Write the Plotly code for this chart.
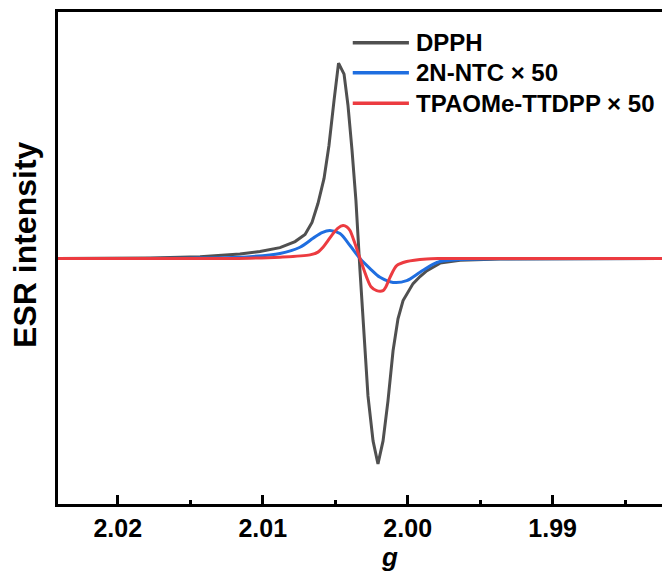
import plotly.graph_objects as go

# ---------------- data ----------------
series_names = ["DPPH", "2N-NTC × 50", "TPAOMe-TTDPP × 50"]
series_colors = ["#505050", "#1f6ee0", "#ec3b40"]

dpph_g = [2.02412, 2.01777, 2.01432, 2.01157, 2.01019, 2.00881, 2.00777, 2.00708,
          2.00660, 2.00619, 2.00577, 2.00543, 2.00508, 2.00477, 2.00439, 2.00412,
          2.00384, 2.00357, 2.00329, 2.00301, 2.00274, 2.00239, 2.00205, 2.00170,
          2.00136, 2.00101, 2.00067, 2.00032, 1.99998, 1.99963, 1.99915, 1.99867,
          1.99777, 1.99639, 1.99363, 1.98950, 1.98246]
dpph_i = [0.0, 0.003, 0.010, 0.023, 0.036, 0.056, 0.087, 0.123,
          0.185, 0.282, 0.410, 0.579, 0.810, 1.0, 0.944, 0.785,
          0.554, 0.297, -0.062, -0.369, -0.703, -0.933, -1.051, -0.933,
          -0.728, -0.472, -0.308, -0.215, -0.169, -0.128, -0.092, -0.062,
          -0.023, -0.008, -0.002, 0.0, 0.0]

ntc_g = [2.02412, 2.01433, 2.01088, 2.00881, 2.00743, 2.00653, 2.00591, 2.00536,
         2.00467, 2.00398, 2.00329, 2.00260, 2.00191, 2.00101, 2.00007, 1.99915,
         1.99823, 1.99777, 1.99639, 1.99363, 1.98246]
ntc_i = [0.0, 0.003, 0.010, 0.026, 0.058, 0.104, 0.133, 0.144,
         0.128, 0.067, 0.0, -0.051, -0.096, -0.122, -0.113, -0.070,
         -0.028, -0.015, -0.005, -0.001, 0.0]

tpa_g = [2.02412, 2.01088, 2.00881, 2.00674, 2.00619, 2.00584, 2.00550, 2.00515,
         2.00481, 2.00446, 2.00419, 2.00398, 2.00364, 2.00329, 2.00283, 2.00253,
         2.00214, 2.00170, 2.00150, 2.00122, 2.00076, 2.00007, 1.99869, 1.99777,
         1.98246]
tpa_i = [0.0, 0.002, 0.007, 0.019, 0.033, 0.058, 0.092, 0.128,
         0.156, 0.169, 0.162, 0.144, 0.077, 0.0, -0.096, -0.144,
         -0.164, -0.164, -0.144, -0.096, -0.036, -0.015, -0.002, 0.0,
         0.0]

x_range = [2.02412, 1.98246]
y_range = [-1.256, 1.262]
major_ticks = [2.02, 2.01, 2.00, 1.99]
major_labels = ["2.02", "2.01", "2.00", "1.99"]

FONT = "Arial, Liberation Sans, sans-serif"

fig = go.Figure()
fig.add_trace(go.Scatter(x=dpph_g, y=dpph_i, mode="lines", name=series_names[0],
                         line=dict(color=series_colors[0], width=3)))
fig.add_trace(go.Scatter(x=ntc_g, y=ntc_i, mode="lines", name=series_names[1],
                         line=dict(color=series_colors[1], width=3, shape="spline", smoothing=0.8)))
fig.add_trace(go.Scatter(x=tpa_g, y=tpa_i, mode="lines", name=series_names[2],
                         line=dict(color=series_colors[2], width=3, shape="spline", smoothing=0.8)))

# manual legend (decoration)
leg_rows = [0.9376, 0.8766, 0.8143]
for name, color, yy in zip(series_names, series_colors, leg_rows):
    fig.add_shape(type="line", xref="paper", yref="paper", x0=0.488, x1=0.581, y0=yy, y1=yy,
                  line=dict(color=color, width=3.5))
    fig.add_annotation(xref="paper", yref="paper", x=0.589, y=yy, text=name, showarrow=False,
                       xanchor="left", yanchor="middle",
                       font=dict(family=FONT, size=24, color="black", weight="bold"))

# axis titles
fig.add_annotation(xref="paper", yref="paper", x=0.549, y=-0.108, text="<i>g</i>",
                   showarrow=False, xanchor="center", yanchor="middle",
                   font=dict(family=FONT, size=26, color="black", weight="bold"))
fig.add_annotation(xref="paper", yref="paper", x=-0.022, y=0.526, text="ESR intensity",
                   showarrow=False, textangle=-90, xanchor="right", yanchor="middle",
                   font=dict(family=FONT, size=32, color="black", weight="bold"))

fig.update_layout(
    width=662, height=575,
    margin=dict(l=58, r=0, t=12, b=71),
    plot_bgcolor="white", paper_bgcolor="white",
    showlegend=False,
    xaxis=dict(range=x_range, showgrid=False, zeroline=False,
               showline=True, linecolor="black", linewidth=3, mirror=True,
               tickvals=major_ticks, ticktext=major_labels,
               ticks="inside", ticklen=9, tickwidth=2.5, tickcolor="black",
               ticklabelstandoff=0,
               tickfont=dict(family=FONT, size=25, color="black", weight="bold"),
               minor=dict(dtick=0.005, tick0=2.0, ticks="inside", ticklen=4,
                          tickwidth=2.5, tickcolor="black", showgrid=False)),
    yaxis=dict(range=y_range, showgrid=False, zeroline=False,
               showline=True, linecolor="black", linewidth=3, mirror=False,
               showticklabels=False, ticks=""),
)

fig.write_html("out.html")
